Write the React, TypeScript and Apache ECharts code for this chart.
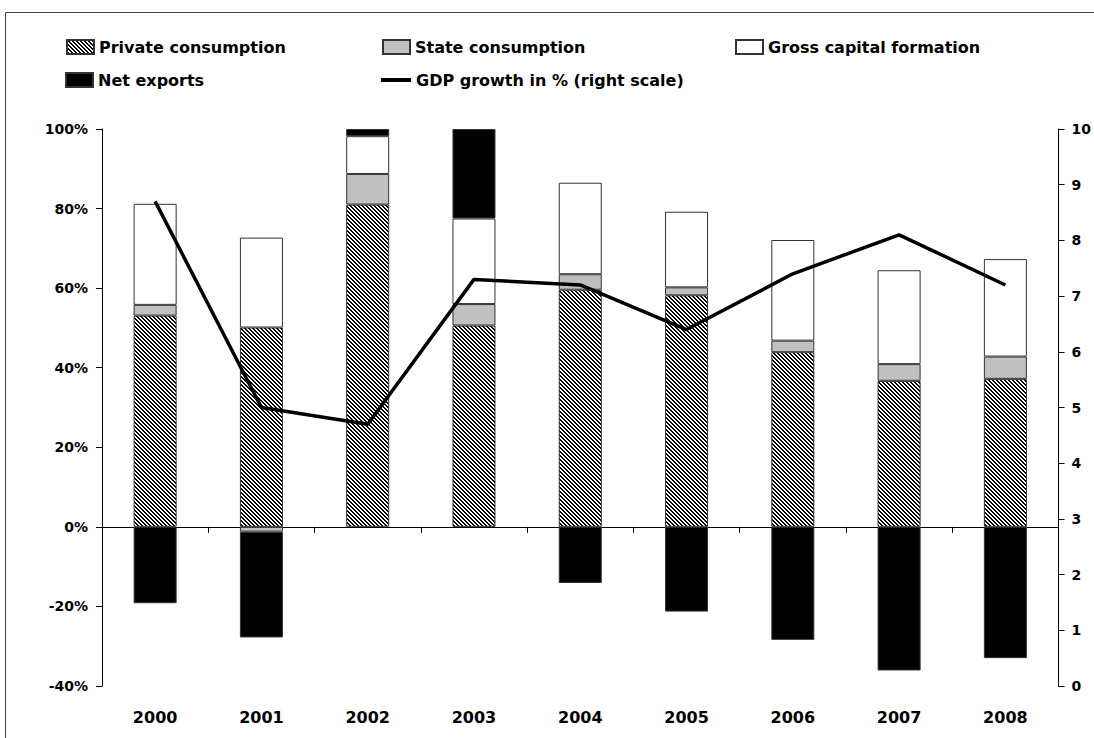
import React, { useEffect, useRef } from "react";
import * as echarts from "echarts";

const years = ["2000", "2001", "2002", "2003", "2004", "2005", "2006", "2007", "2008"];
const privateConsumption = [53.1, 50.1, 81.0, 50.6, 59.6, 58.2, 43.9, 36.7, 37.2];
const stateConsumption = [2.7, -1.2, 7.7, 5.4, 3.9, 2.0, 2.9, 4.2, 5.6];
const grossCapital = [25.4, 22.6, 9.5, 21.5, 23.0, 19.0, 25.3, 23.6, 24.5];
const netExports = [-19.2, -26.6, 1.8, 22.5, -14.1, -21.3, -28.4, -36.1, -33.0];
const gdpGrowth = [8.7, 5.0, 4.7, 7.3, 7.2, 6.4, 7.4, 8.1, 7.2];

const FONT = "DejaVu Sans";

function makeHatch(): HTMLCanvasElement {
  const c = document.createElement("canvas");
  c.width = 4;
  c.height = 4;
  const ctx = c.getContext("2d")!;
  ctx.fillStyle = "#ffffff";
  ctx.fillRect(0, 0, 4, 4);
  ctx.fillStyle = "#000000";
  for (let y = 0; y < 4; y++) {
    for (let x = 0; x < 4; x++) {
      const d = (((x - y) % 4) + 4) % 4;
      if (d === 0 || d === 1) ctx.fillRect(x, y, 1, 1);
    }
  }
  return c;
}

export default function App() {
  const ref = useRef<HTMLDivElement>(null);
  useEffect(() => {
    if (!ref.current) return;
    const chart = echarts.init(ref.current, null, { renderer: "svg" });
    const hatch = makeHatch();
    const hatchColor: any = { image: hatch, repeat: "repeat", imageWidth: 4, imageHeight: 4 };
    const textStyle = { fontFamily: FONT, fontWeight: "bold" as const, fontSize: 16, color: "#000" };
    const legendBase = {
      orient: "horizontal" as const,
      padding: 0,
      itemWidth: 27,
      itemHeight: 14,
      itemGap: 0,
      icon: "rect",
      selectedMode: false,
      textStyle,
    };
    const border = { borderColor: "#333", borderWidth: 1 };
    const gdpName = "GDP growth in % (right scale)";
    chart.setOption({
      animation: false,
      backgroundColor: "#fff",
      graphic: [
        {
          type: "rect",
          shape: { x: 5.5, y: 12.5, width: 1200, height: 800 },
          style: { fill: "none", stroke: "#444", lineWidth: 1 },
          silent: true,
          z: -1,
        },
      ],
      legend: [
        { ...legendBase, left: 66, top: 39, data: ["Private consumption"] },
        { ...legendBase, left: 382, top: 39, data: ["State consumption"] },
        { ...legendBase, left: 735, top: 39, data: ["Gross capital formation"] },
        { ...legendBase, left: 65, top: 72, data: ["Net exports"] },
        {
          ...legendBase,
          left: 381,
          top: 72,
          itemWidth: 30,
          itemHeight: 4,
          data: [{ name: gdpName, icon: "rect", itemStyle: { color: "#000", borderWidth: 0 } }],
        },
      ],
      grid: { left: 102, right: 29, top: 129, bottom: 52, containLabel: false },
      xAxis: [
        {
          type: "category",
          data: years,
          boundaryGap: true,
          axisLine: { onZero: true, onZeroAxisIndex: 0, lineStyle: { color: "#000", width: 1 } },
          axisTick: { show: true, length: 6, alignWithLabel: false, lineStyle: { color: "#000" } },
          axisLabel: { show: false },
          splitLine: { show: false },
        },
        {
          type: "category",
          data: years,
          position: "bottom",
          boundaryGap: true,
          axisLine: { show: false, onZero: false },
          axisTick: { show: false },
          axisLabel: { ...textStyle, margin: 23 },
          splitLine: { show: false },
        },
      ],
      yAxis: [
        {
          type: "value",
          min: -40,
          max: 100,
          interval: 20,
          position: "left",
          axisLine: { show: true, lineStyle: { color: "#000", width: 1 } },
          axisTick: { show: true, length: 6, lineStyle: { color: "#000" } },
          axisLabel: { ...textStyle, fontSize: 14, margin: 14, formatter: "{value}%" },
          splitLine: { show: false },
        },
        {
          type: "value",
          min: 0,
          max: 10,
          interval: 1,
          position: "right",
          axisLine: { show: true, lineStyle: { color: "#000", width: 1 } },
          axisTick: { show: true, length: 6, lineStyle: { color: "#000" } },
          axisLabel: { ...textStyle, fontSize: 14, margin: 13 },
          splitLine: { show: false },
        },
      ],
      series: [
        {
          name: "Private consumption",
          type: "bar",
          stack: "gdp",
          barWidth: 43,
          data: privateConsumption,
          itemStyle: { color: hatchColor, ...border },
        },
        {
          name: "State consumption",
          type: "bar",
          stack: "gdp",
          barWidth: 43,
          data: stateConsumption,
          itemStyle: { color: "#c0c0c0", ...border },
        },
        {
          name: "Gross capital formation",
          type: "bar",
          stack: "gdp",
          barWidth: 43,
          data: grossCapital,
          itemStyle: { color: "#ffffff", ...border },
        },
        {
          name: "Net exports",
          type: "bar",
          stack: "gdp",
          barWidth: 43,
          data: netExports,
          itemStyle: { color: "#000000", ...border },
        },
        {
          name: gdpName,
          type: "line",
          yAxisIndex: 1,
          data: gdpGrowth,
          symbol: "none",
          showSymbol: false,
          lineStyle: { color: "#000", width: 3.5 },
          itemStyle: { color: "#000" },
          z: 5,
        },
      ],
    });
    return () => chart.dispose();
  }, []);
  return (
    <div
      ref={ref}
      style={{ position: "fixed", left: 0, top: 0, width: 1094, height: 738, background: "#fff" }}
    />
  );
}
